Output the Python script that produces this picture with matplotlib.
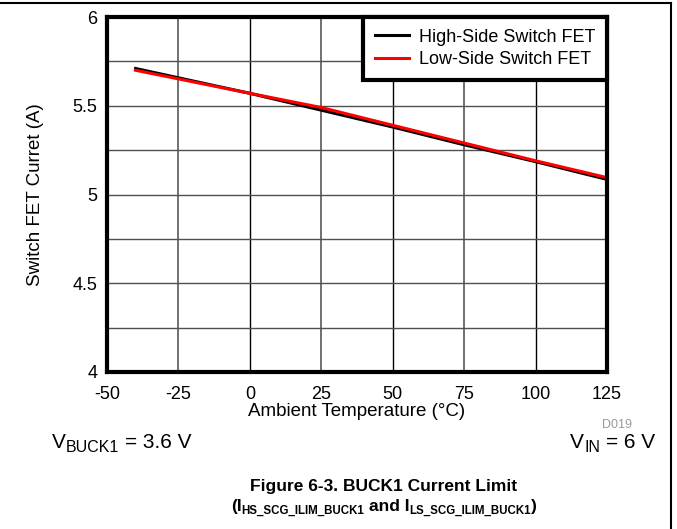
import matplotlib
matplotlib.use("Agg")
import matplotlib.pyplot as plt
from matplotlib.lines import Line2D

plt.rcParams['font.family'] = ['Liberation Sans', 'DejaVu Sans']

temp = [-40, 0, 25, 50, 75, 100, 125]
hs_current = [5.71, 5.57, 5.475, 5.38, 5.28, 5.185, 5.085]
ls_current = [5.70, 5.57, 5.49, 5.39, 5.29, 5.19, 5.095]
xticks = [-50, -25, 0, 25, 50, 75, 100, 125]
yticks = [4, 4.5, 5, 5.5, 6]
yminor = [4.25, 4.75, 5.25, 5.75]

W, H = 677, 529
fig = plt.figure(figsize=(W / 100, H / 100), dpi=100)
ax = fig.add_axes([107 / W, 1 - 372 / H, 500 / W, 355 / H])

ax.plot(temp, hs_current, color='black', lw=2.2, label='High-Side Switch FET', zorder=3)
ax.plot(temp, ls_current, color='#ff0000', lw=2.2, label='Low-Side Switch FET', zorder=4)

ax.set_xlim(-50, 125)
ax.set_ylim(4, 6)
ax.set_xticks(xticks)
ax.set_xticklabels([str(v) for v in xticks])
ax.set_yticks(yticks)
ax.set_yticklabels(['4', '4.5', '5', '5.5', '6'])
ax.set_yticks(yminor, minor=True)
ax.tick_params(axis='both', which='both', length=0, labelsize=13)
ax.tick_params(axis='x', pad=10)
ax.tick_params(axis='y', pad=7)
ax.yaxis.grid(True, which='both', color='#505050', lw=1)
for v in xticks[1:]:
    dark = v in (0, 50, 100)
    ax.axvline(v, color='black' if dark else '#707070', lw=1 if dark else 1.4, zorder=1)
for s in ax.spines.values():
    s.set_linewidth(3)
    s.set_zorder(5)

ax.set_xlabel('Ambient Temperature (°C)', fontsize=13.5, labelpad=0)
ax.set_ylabel('Switch FET Curret (A)', fontsize=13.5)
ax.yaxis.set_label_coords(-0.125, 0.5)

leg = ax.legend(loc='upper right', fontsize=13, frameon=True, fancybox=False,
                borderaxespad=0, handlelength=1.9, handletextpad=0.55,
                borderpad=0.65, labelspacing=0.3)
leg.get_frame().set_edgecolor('black')
leg.get_frame().set_linewidth(3)
leg.get_frame().set_alpha(1)
leg.set_zorder(6)

fig.text(617 / W, 1 - 425 / H, 'D019', fontsize=9, color='#999999', ha='center', va='center')

renderer = fig.canvas.get_renderer()


def rich_text(x_px, base_px, parts, ha='left', weight='normal'):
    """parts: list of (string, fontsize, drop_px, gap_before_px)."""
    items = []
    total = 0.0
    for s, size, drop, gap in parts:
        t = fig.text(0, 0, s, fontsize=size, fontweight=weight, va='baseline', ha='left')
        w = t.get_window_extent(renderer).width
        items.append((t, w, drop, gap))
        total += gap + w
    if ha == 'left':
        cur = x_px
    elif ha == 'right':
        cur = x_px - total
    else:
        cur = x_px - total / 2
    for t, w, drop, gap in items:
        cur += gap
        t.set_position((cur / W, 1 - (base_px + drop) / H))
        cur += w


sp = 0.278 * 15 * 100 / 72
rich_text(52, 448, [('V', 15, 0, 0), ('BUCK1', 11.5, 4, 0), ('= 3.6 V', 15, 0, sp)])
rich_text(655, 448, [('V', 15, 0, 0), ('IN', 11.5, 4, 0), ('= 6 V', 15, 0, sp)], ha='right')

fig.text(384 / W, 1 - 487 / H, 'Figure 6-3. BUCK1 Current Limit', fontsize=12.5, fontweight='bold',
         ha='center', va='center')
bsp = 0.278 * 12.5 * 100 / 72
rich_text(384, 511, [('(I', 12.5, 0, 0), ('HS_SCG_ILIM_BUCK1', 8.3, 3, 0), ('and I', 12.5, 0, bsp),
                     ('LS_SCG_ILIM_BUCK1', 8.3, 3, 0), (')', 12.5, 0, 0)], ha='center', weight='bold')

fig.add_artist(Line2D([0, 671 / W], [1 - 3 / H, 1 - 3 / H], transform=fig.transFigure, color='black', lw=1.5))
fig.add_artist(Line2D([671 / W, 671 / W], [1 - 3 / H, 0], transform=fig.transFigure, color='black', lw=1.5))

fig.savefig('out.png', dpi=100)
